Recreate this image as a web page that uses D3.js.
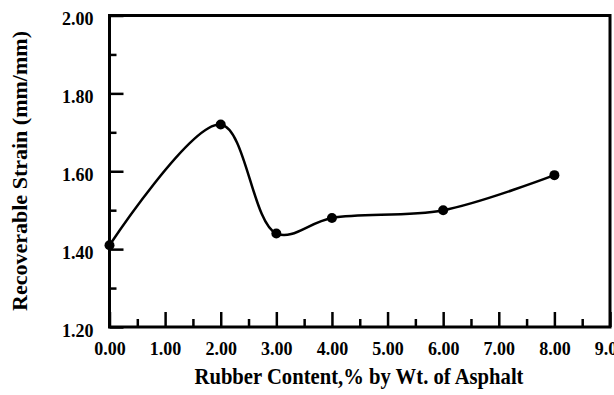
<!DOCTYPE html>
<meta charset="utf-8">
<head>
<script src="https://d3js.org/d3.v7.min.js"></script>
<style>
  body { margin: 0; background: #fff; }
  text { font-family: "Liberation Serif", "Times New Roman", serif; font-weight: bold; fill: #000; }
</style>
</head>
<body>
<div id="chart"></div>
<script>
// data
var rubber = [0, 2, 3, 4, 6, 8];
var strain = [1.41, 1.72, 1.44, 1.48, 1.50, 1.59];

var xTicks = [0, 1, 2, 3, 4, 5, 6, 7, 8, 9];
var xMinor = [0.5, 1.5, 2.5, 3.5, 4.5, 5.5, 6.5, 7.5, 8.5];
var yTicks = [1.2, 1.4, 1.6, 1.8, 2.0];
var yMinor = [1.3, 1.5, 1.7, 1.9];

var W = 614, H = 395;
var svg = d3.select("#chart").append("svg")
  .attr("width", W).attr("height", H);

var x = d3.scaleLinear().domain([0, 9]).range([109.5, 610]);
var y = d3.scaleLinear().domain([1.2, 2.0]).range([327, 15.5]);

// y axis, ticks pointing inward
var yAx = svg.append("g").attr("transform", "translate(" + x(0) + ",0)")
  .call(d3.axisLeft(y).tickValues(yTicks).tickSize(-14).tickPadding(16)
    .tickFormat(d3.format(".2f")));
yAx.append("g").call(d3.axisLeft(y).tickValues(yMinor).tickSize(-7).tickFormat(""));
yAx.selectAll(".tick text").attr("dy", "0.5em");

// x axis
var xAx = svg.append("g").attr("transform", "translate(0," + y(1.2) + ")")
  .call(d3.axisBottom(x).tickValues(xTicks).tickSize(-15).tickPadding(15)
    .tickFormat(d3.format(".2f")));
xAx.append("g").call(d3.axisBottom(x).tickValues(xMinor).tickSize(-8).tickFormat(""));

svg.selectAll(".domain").remove();
svg.selectAll(".tick line").attr("stroke", "#000").attr("stroke-width", 2.5);
svg.selectAll(".tick text").style("font-size", "18px");

// frame
svg.append("rect")
  .attr("x", x(0)).attr("y", y(2.0))
  .attr("width", x(9) - x(0)).attr("height", y(1.2) - y(2.0))
  .attr("fill", "none").attr("stroke", "#000").attr("stroke-width", 3);

// smoothed line
var pts = rubber.map(function(d, i) { return [d, strain[i]]; });
var line = d3.line()
  .x(function(d) { return x(d[0]); })
  .y(function(d) { return y(d[1]); })
  .curve(d3.curveCatmullRom.alpha(0.5));

svg.append("path").datum(pts)
  .attr("d", line)
  .attr("fill", "none").attr("stroke", "#000").attr("stroke-width", 2.5);

svg.selectAll(".pt").data(pts).enter().append("circle")
  .attr("class", "pt")
  .attr("cx", function(d) { return x(d[0]); })
  .attr("cy", function(d) { return y(d[1]); })
  .attr("r", 5).attr("fill", "#000");

// axis titles
svg.append("text")
  .attr("x", 359).attr("y", 384)
  .attr("text-anchor", "middle")
  .attr("textLength", 329).attr("lengthAdjust", "spacingAndGlyphs")
  .style("font-size", "23px")
  .text("Rubber Content,% by Wt. of Asphalt");

svg.append("text")
  .attr("transform", "translate(27,171) rotate(-90)")
  .attr("text-anchor", "middle")
  .attr("textLength", 280).attr("lengthAdjust", "spacingAndGlyphs")
  .style("font-size", "22px")
  .text("Recoverable Strain (mm/mm)");
</script>
</body>
